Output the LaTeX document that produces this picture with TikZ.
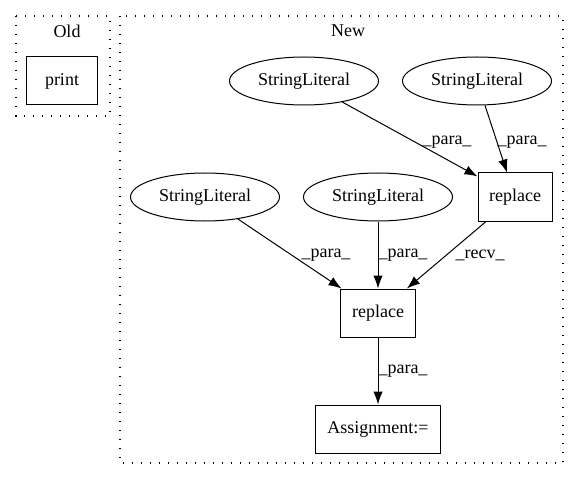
\documentclass[tikz,border=0pt]{standalone}
\usepackage{fontspec}
\setmainfont{Liberation Serif}
\usetikzlibrary{shapes.geometric,arrows.meta}
\begin{document}
\begin{tikzpicture}[x=1bp,y=-1bp,
  every node/.style={font=\fontsize{18bp}{21bp}\selectfont},
  cluster/.style={draw,line width=1.3bp,dash pattern=on 1.3bp off 7.7bp},
  box/.style={draw,line width=1bp,rectangle,inner sep=0pt},
  lit/.style={draw,line width=1bp,ellipse,inner sep=0pt,minimum width=149bp,minimum height=48bp},
  edge/.style={draw,line width=1bp,-{Latex[length=13bp,width=9.5bp]}},
  lbl/.style={inner sep=0pt}]
\useasboundingbox (0,0) rectangle (579,480);
% clusters
\draw[cluster] (16,16) rectangle (110,116);
\node (oldlbl) at (67,31) {Old};
\draw[cluster] (120,16) rectangle (563,463);
\node (newlbl) at (348,31) {New};
% nodes
\node[box,minimum width=71bp,minimum height=48bp] (print) at (62,81) {print};
\node[lit] (sl1) at (304,81) {StringLiteral};
\node[lit] (sl2) at (477,81) {StringLiteral};
\node[box,minimum width=74bp,minimum height=48bp] (r1) at (515,197) {replace};
\node[lit] (sl3) at (205,197) {StringLiteral};
\node[lit] (sl4) at (378,197) {StringLiteral};
\node[box,minimum width=75bp,minimum height=48bp] (r2) at (378,313) {replace};
\node[box,minimum width=125bp,minimum height=48bp] (asg) at (378,429) {Assignment:=};
% edges
\draw[edge] (sl1) -- (r1) node[lbl] at (447,142) {\_para\_};
\draw[edge] (sl2) -- (r1) node[lbl] at (522,142) {\_para\_};
\draw[edge] (sl3) -- (r2) node[lbl] at (326,255) {\_para\_};
\draw[edge] (sl4) -- (r2) node[lbl] at (403,255) {\_para\_};
\draw[edge] (r1) -- (r2) node[lbl] at (480,255) {\_recv\_};
\draw[edge] (r2) -- (asg) node[lbl] at (403,371) {\_para\_};
\end{tikzpicture}
\end{document}
